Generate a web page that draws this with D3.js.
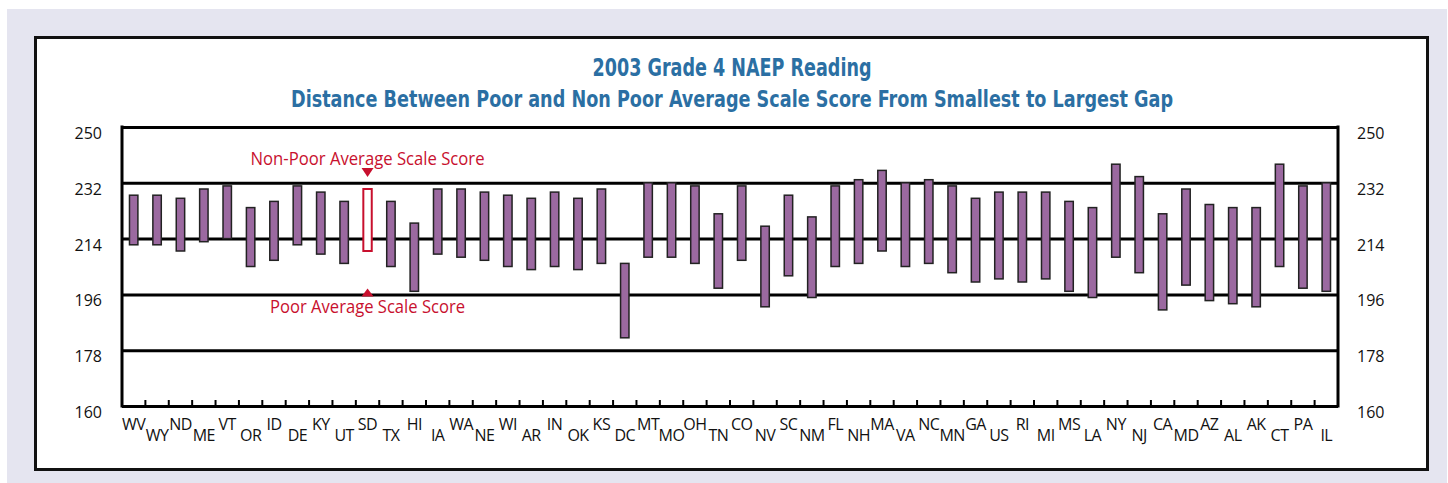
<!DOCTYPE html>
<html><head><meta charset="utf-8">
<script src="https://cdn.jsdelivr.net/npm/d3@7"></script>
<style>
html,body{margin:0;padding:0;background:#fff;}
svg{display:block;}
</style></head>
<body>
<svg id="chart" width="1448" height="483"></svg>
<script>
const states = ["WV","WY","ND","ME","VT","OR","ID","DE","KY","UT","SD","TX","HI","IA","WA","NE","WI","AR","IN","OK","KS","DC","MT","MO","OH","TN","CO","NV","SC","NM","FL","NH","MA","VA","NC","MN","GA","US","RI","MI","MS","LA","NY","NJ","CA","MD","AZ","AL","AK","CT","PA","IL"];
const poorScore = [212,212,210,213,214,205,207,212,209,206,210,205,197,209,208,207,205,204,205,204,206,182,208,208,206,198,207,192,202,195,205,206,210,205,206,203,200,201,200,201,197,195,208,203,191,199,194,193,192,205,198,197];
const nonPoorScore = [228,228,227,230,231,224,226,231,229,226,230,226,219,230,230,229,228,227,229,227,230,206,232,232,231,222,231,218,228,221,231,233,236,232,233,231,227,229,229,229,226,224,238,234,222,230,225,224,224,238,231,232];
const yTicks = [160,178,196,214,232,250];
const highlightState = "SD";
const titleLines = ["2003 Grade 4 NAEP Reading","Distance Between Poor and Non Poor Average Scale Score From Smallest to Largest Gap"];
const annotTop = "Non-Poor Average Scale Score";
const annotBottom = "Poor Average Scale Score";

const data = states.map((s,i)=>({state:s, poor:poorScore[i], nonPoor:nonPoorScore[i]}));

const svg = d3.select("#chart");
const baseFont = "'Open Sans', 'Noto Sans', sans-serif";
const red = "#c8102e";

// background
svg.append("rect").attr("x",7).attr("y",9).attr("width",1440).attr("height",474).attr("fill","#e5e5f0");
svg.append("rect").attr("x",35.5).attr("y",37.5).attr("width",1392).attr("height",432)
  .attr("fill","#fff").attr("stroke","#111").attr("stroke-width",3);

// title
const tw = [279, 882], tb = [76, 107], ts = [25, 23];
titleLines.forEach((t,i)=>{
  svg.append("text").attr("x",732).attr("y",tb[i]).attr("text-anchor","middle")
    .attr("font-family","'Liberation Sans Narrow','DejaVu Sans Condensed',sans-serif")
    .attr("font-weight","bold").attr("font-size",ts[i]).attr("fill","#2b6fa3")
    .attr("textLength",tw[i]).attr("lengthAdjust","spacingAndGlyphs").text(t);
});

const L=122, R=1338, T=127, B=406;
const x = d3.scaleBand().domain(states).range([L,R]).padding(0);
const y = d3.scaleLinear().domain([160,250]).range([B,T]);

// gridlines
const grid = svg.append("g").attr("transform",`translate(${L},0)`)
  .call(d3.axisLeft(y).tickValues(yTicks).tickSize(-(R-L)).tickFormat(""));
grid.select(".domain").remove();
grid.selectAll("line").attr("stroke","#000").attr("stroke-width",3);

// frame sides
svg.append("line").attr("x1",L).attr("x2",L).attr("y1",T-1.5).attr("y2",B+1.5).attr("stroke","#000").attr("stroke-width",3);
svg.append("line").attr("x1",R).attr("x2",R).attr("y1",T-1.5).attr("y2",B+1.5).attr("stroke","#000").attr("stroke-width",3);

// y axes labels
const yl = svg.append("g").attr("transform",`translate(${L},0)`)
  .call(d3.axisLeft(y).tickValues(yTicks).tickSize(0).tickPadding(20));
yl.select(".domain").remove();
yl.selectAll("text").attr("font-family",baseFont).attr("font-size",16).attr("fill","#111").attr("dy","0.72em");
const yr = svg.append("g").attr("transform",`translate(${R},0)`)
  .call(d3.axisRight(y).tickValues(yTicks).tickSize(0).tickPadding(19));
yr.select(".domain").remove();
yr.selectAll("text").attr("font-family",baseFont).attr("font-size",16).attr("fill","#111").attr("dy","0.72em");

// bottom ticks at band boundaries
svg.append("g").selectAll("line").data(states.slice(1)).join("line")
  .attr("x1",d=>x(d)).attr("x2",d=>x(d)).attr("y1",y(160)).attr("y2",y(160)-6)
  .attr("stroke","#000").attr("stroke-width",2);

// x labels (staggered)
const xa = svg.append("g").attr("transform",`translate(0,${B})`)
  .call(d3.axisBottom(x).tickSize(0).tickPadding(0));
xa.select(".domain").remove();
xa.selectAll("text").attr("font-family",baseFont).attr("font-size",16).attr("fill","#111")
  .attr("dy",null).attr("letter-spacing","-0.5")
  .attr("y",(d,i)=> i%2===0 ? 24 : 35);

// bars
const bw = x.bandwidth()*0.36;
svg.append("g").selectAll("rect").data(data).join("rect")
  .attr("x",d=>x(d.state)+x.bandwidth()/2-bw/2)
  .attr("width",bw)
  .attr("y",d=>y(d.nonPoor))
  .attr("height",d=>y(d.poor)-y(d.nonPoor))
  .attr("fill",d=>d.state===highlightState?"#fff":"#9b69a0")
  .attr("stroke",d=>d.state===highlightState?red:"#222")
  .attr("stroke-width",d=>d.state===highlightState?2:1.5);

// annotations
const hx = x(highlightState)+x.bandwidth()/2;
svg.append("text").attr("x",hx).attr("y",165).attr("text-anchor","middle")
  .attr("font-family",baseFont).attr("font-size",17.5).attr("fill",red)
  .attr("textLength",234).attr("lengthAdjust","spacingAndGlyphs").text(annotTop);
svg.append("path").attr("d",`M${hx-6},168 L${hx+6},168 L${hx},177 Z`).attr("fill",red);
svg.append("path").attr("d",`M${hx-6},${y(196)+2} L${hx+6},${y(196)+2} L${hx},${y(196)-6} Z`).attr("fill",red);
svg.append("text").attr("x",hx).attr("y",313).attr("text-anchor","middle")
  .attr("font-family",baseFont).attr("font-size",17.5).attr("fill",red)
  .attr("textLength",195).attr("lengthAdjust","spacingAndGlyphs").text(annotBottom);
</script>
</body></html>
